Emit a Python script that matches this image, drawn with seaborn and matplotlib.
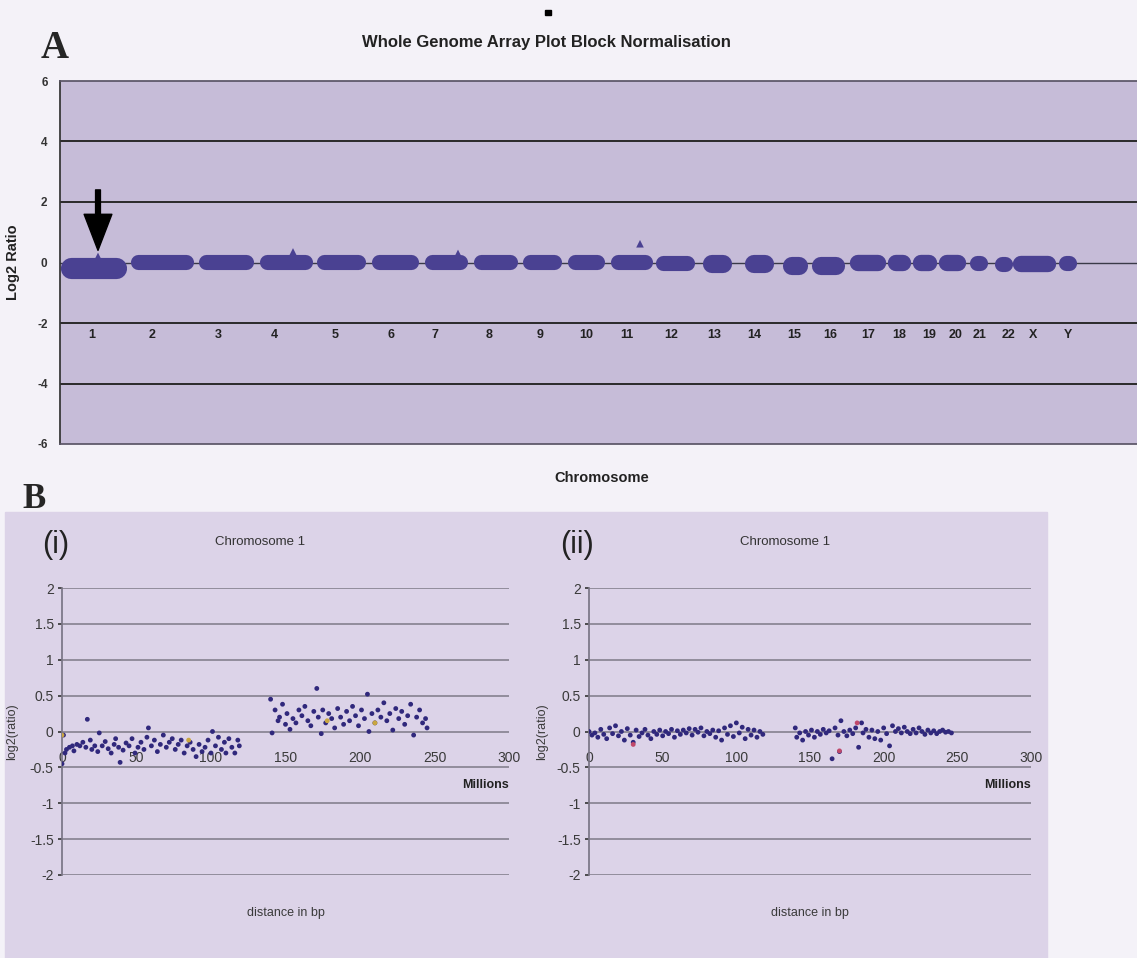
import numpy as np
import pandas as pd
import matplotlib
matplotlib.use("Agg")
import matplotlib.pyplot as plt
from matplotlib.patches import Rectangle
import seaborn as sns


## data
# panel A: whole genome blocks (x in array position units, y in log2 ratio)
chrom_names = ['1', '2', '3', '4', '5', '6', '7', '8', '9', '10', '11', '12',
               '13', '14', '15', '16', '17', '18', '19', '20', '21', '22', 'X', 'Y']
chrom_start = [0, 210, 414, 597, 768, 933, 1092, 1239, 1386, 1521, 1650, 1785,
               1929, 2055, 2169, 2256, 2370, 2484, 2559, 2637, 2730, 2805, 2859, 3000]
chrom_end = [201, 402, 582, 759, 918, 1077, 1224, 1374, 1506, 1635, 1779, 1905,
             2016, 2142, 2244, 2355, 2478, 2553, 2631, 2718, 2778, 2853, 2988, 3045]
chrom_level = [-0.17, 0.02, 0.02, 0.02, 0.02, 0.02, 0.02, 0.02, 0.02, 0.02, 0.02, 0.0,
               -0.06, -0.05, -0.1, -0.1, -0.03, -0.02, -0.03, -0.03, -0.02, -0.04, -0.04, -0.02]
chrom_spread = [0.35, 0.25, 0.25, 0.25, 0.25, 0.25, 0.25, 0.25, 0.25, 0.25, 0.25, 0.25,
                0.3, 0.3, 0.3, 0.3, 0.27, 0.27, 0.27, 0.27, 0.25, 0.25, 0.27, 0.25]
chrom_label_pos = [96, 276, 474, 642, 825, 993, 1125, 1287, 1440, 1578, 1701, 1833,
                   1962, 2082, 2202, 2310, 2424, 2517, 2607, 2688, 2760, 2844, 2919, 3024]
spike_pos = [114, 699, 1194, 1740]
spike_ratio = [0.2, 0.35, 0.3, 0.62]

# panel B(i): chromosome 1, block normalisation (Mb, log2 ratio)
b1_pos = [0, 1, 2, 3, 5, 7, 8, 10, 12, 14, 16, 17, 19, 20, 22, 24, 25, 27, 29, 31,
          33, 35, 36, 38, 39, 41, 43, 45, 47, 49, 51, 53, 55, 57, 58, 60, 62, 64, 66, 68,
          70, 72, 74, 76, 78, 80, 82, 84, 86, 88, 90, 92, 94, 96, 98, 100, 101, 103, 105, 107,
          109, 110, 112, 114, 116, 118, 119,
          140, 141, 143, 145, 146, 148, 150, 151, 153, 155, 157, 159, 161, 163, 165, 167, 169,
          171, 172, 174, 175, 177, 179, 181, 183, 185, 187, 189, 191, 193, 195, 197, 199, 201,
          203, 205, 206, 208, 210, 212, 214, 216, 218, 220, 222, 224, 226, 228, 230, 232, 234,
          236, 238, 240, 242, 244, 245]
b1_ratio = [-0.45, -0.05, -0.3, -0.25, -0.22, -0.2, -0.27, -0.18, -0.2, -0.15, -0.22, 0.17,
            -0.12, -0.25, -0.2, -0.28, -0.02, -0.2, -0.14, -0.24, -0.3, -0.18, -0.1, -0.22,
            -0.43, -0.26, -0.16, -0.2, -0.1, -0.3, -0.22, -0.15, -0.25, -0.08, 0.05, -0.2,
            -0.12, -0.28, -0.18, -0.05, -0.22, -0.15, -0.1, -0.25, -0.18, -0.12, -0.3, -0.2,
            -0.15, -0.25, -0.35, -0.18, -0.28, -0.22, -0.12, -0.3, 0.0, -0.2, -0.08, -0.25,
            -0.15, -0.3, -0.1, -0.22, -0.3, -0.12, -0.2,
            0.45, -0.02, 0.3, 0.15, 0.2, 0.38, 0.1, 0.25, 0.03, 0.18, 0.12, 0.3, 0.22, 0.35,
            0.15, 0.08, 0.28, 0.6, 0.2, -0.03, 0.3, 0.12, 0.25, 0.18, 0.05, 0.32, 0.2, 0.1,
            0.28, 0.15, 0.35, 0.22, 0.08, 0.3, 0.18, 0.52, 0.0, 0.25, 0.12, 0.3, 0.2, 0.4,
            0.15, 0.25, 0.02, 0.32, 0.18, 0.28, 0.1, 0.22, 0.38, -0.05, 0.2, 0.3, 0.12, 0.18, 0.05]
b1_flag_pos = [0, 85, 178, 210]
b1_flag_ratio = [-0.05, -0.12, 0.15, 0.12]

# panel B(ii): chromosome 1, second sample
b2_pos = [0, 2, 4, 6, 8, 10, 12, 14, 16, 18, 20, 22, 24, 26, 28, 30, 32, 34, 36, 38,
          40, 42, 44, 46, 48, 50, 52, 54, 56, 58, 60, 62, 64, 66, 68, 70, 72, 74, 76, 78,
          80, 82, 84, 86, 88, 90, 92, 94, 96, 98, 100, 102, 104, 106, 108, 110, 112, 114, 116, 118,
          140, 141, 143, 145, 147, 149, 151, 153, 155, 157, 159, 161, 163, 165, 167, 169, 170,
          171, 173, 175, 177, 179, 181, 183, 185, 186, 188, 190, 192, 194, 196, 198, 200, 202,
          204, 206, 208, 210, 212, 214, 216, 218, 220, 222, 224, 226, 228, 230, 232, 234, 236,
          238, 240, 242, 244, 246]
b2_ratio = [0.0, -0.05, -0.02, -0.08, 0.03, -0.04, -0.1, 0.05, -0.03, 0.08, -0.06, 0.0,
            -0.12, 0.04, -0.05, -0.15, 0.02, -0.07, -0.02, 0.03, -0.05, -0.1, 0.0, -0.04,
            0.02, -0.06, 0.0, -0.03, 0.03, -0.08, 0.01, -0.04, 0.02, -0.02, 0.04, -0.05,
            0.03, -0.01, 0.05, -0.06, 0.0, -0.03, 0.02, -0.08, 0.01, -0.12, 0.05, -0.04,
            0.08, -0.07, 0.12, -0.02, 0.06, -0.1, 0.03, -0.05, 0.02, -0.08, 0.0, -0.04,
            0.05, -0.08, -0.02, -0.12, 0.0, -0.05, 0.02, -0.08, 0.0, -0.04, 0.03, -0.02,
            0.01, -0.38, 0.05, -0.05, -0.28, 0.15, 0.0, -0.06, 0.02, -0.03, 0.05, -0.22,
            0.12, -0.02, 0.03, -0.08, 0.02, -0.1, 0.0, -0.12, 0.05, -0.03, -0.2, 0.08,
            0.0, 0.04, -0.02, 0.06, 0.0, -0.03, 0.03, -0.02, 0.05, 0.0, -0.04, 0.02,
            -0.02, 0.01, -0.03, 0.0, 0.02, -0.01, 0.0, -0.02]
b2_flag_pos = [30, 170, 182]
b2_flag_ratio = [-0.18, -0.27, 0.12]

y_tick_labels_b = ['-2', '-1.5', '-1', '-0.5', '0', '0.5', '1', '1.5', '2']

## style
page_bg = '#f4f2f8'
a_bg = '#c6bcd8'
b_bg = '#dcd3e8'
blob_col = '#4a4192'
dot_col = '#30287c'

sns.set_theme(style='white')
plt.rcParams['font.family'] = ['Liberation Sans', 'DejaVu Sans']

fig = plt.figure(figsize=(11.37, 9.58), dpi=100, facecolor=page_bg)
W, H = 1137.0, 958.0

# lavender box behind panel B
fig.patches.append(Rectangle((5 / W, 0), (1047 - 5) / W, (958 - 512) / H,
                             transform=fig.transFigure, color=b_bg, zorder=-5))
fig.patches.append(Rectangle((545 / W, 1 - 15 / H), 6 / W, 5 / H,
                             transform=fig.transFigure, color='black', zorder=-4))

## panel A
ax = fig.add_axes([60 / W, 1 - 444 / H, 1077 / W, 363 / H])
ax.set_facecolor(a_bg)
ax.set_xlim(0, 3231)
ax.set_ylim(-6, 6)
for y in [4, 2, -2, -4]:
    ax.axhline(y, color='#2a2a2a', lw=1.4, zorder=1)
ax.axhline(0, color='#3a3a48', lw=1.0, zorder=1)

# pixel scales to turn the block spread into a line thickness
fig.canvas.draw()
px_per_x = ax.bbox.width / 3231.0
px_per_y = ax.bbox.height / 12.0
for s, e, lev, sp in zip(chrom_start, chrom_end, chrom_level, chrom_spread):
    thick_px = 2 * sp * px_per_y
    cap = thick_px / 2 / px_per_x
    mid = (s + e) / 2
    # keep at least ~3 px of line so very short blocks still render
    half_min = 1.5 / px_per_x
    x0 = min(s + cap, mid - half_min)
    x1 = max(e - cap, mid + half_min)
    ax.plot([x0, x1], [lev, lev], color=blob_col, lw=thick_px * 72 / 100,
            solid_capstyle='round', zorder=2)
sns.scatterplot(x=spike_pos, y=spike_ratio, ax=ax, color=blob_col, s=30,
                marker='^', edgecolor='none', zorder=3)

for name, pos in zip(chrom_names, chrom_label_pos):
    ax.text(pos, -2.4, name, ha='center', va='center', fontsize=9,
            fontweight='bold', color='#222222')

ax.annotate('', xy=(114, 0.4), xytext=(114, 2.4),
            arrowprops=dict(facecolor='black', edgecolor='black', width=3.5,
                            headwidth=20, headlength=26), zorder=4)

ax.set_xticks([])
ax.set_yticks([-6, -4, -2, 0, 2, 4, 6])
ax.set_yticklabels(['-6', '-4', '-2', '0', '2', '4', '6'])
ax.tick_params(axis='y', labelsize=8.5, colors='#333333', length=3, pad=6)
for t in ax.get_yticklabels():
    t.set_fontweight('bold')
ax.spines['right'].set_visible(False)
ax.spines['left'].set_color('#333333')
ax.spines['top'].set_color('#5a5566')
ax.spines['bottom'].set_color('#5a5566')
ax.set_ylabel('Log2 Ratio', fontsize=10.5, fontweight='bold', color='#222222')
ax.yaxis.set_label_coords(-0.037, 0.5)
ax.set_xlabel('Chromosome', fontsize=10.5, fontweight='bold', color='#222222')
ax.xaxis.set_label_coords(0.503, -0.074)

fig.text(546 / W, 1 - 42 / H, 'Whole Genome Array Plot Block Normalisation',
         ha='center', va='center', fontsize=12, fontweight='bold', color='#222222')
fig.text(55 / W, 1 - 48 / H, 'A', ha='center', va='center', fontsize=28,
         fontweight='bold', family=['Liberation Serif', 'DejaVu Serif'])

## panel B
fig.text(34 / W, 1 - 499 / H, 'B', ha='center', va='center', fontsize=25,
         fontweight='bold', family=['Liberation Serif', 'DejaVu Serif'])


def chrom1_panel(rect, pos, ratio, flag_pos, flag_ratio, flag_col, tag, tag_x, ylab_x):
    bx = fig.add_axes(rect)
    bx.set_facecolor(b_bg)
    bx.set_xlim(0, 300)
    bx.set_ylim(-2, 2)
    bx.set_yticks(np.arange(-2, 2.01, 0.5))
    bx.set_yticklabels(y_tick_labels_b)
    bx.grid(axis='y', color='#8c8796', lw=1.3)
    bx.set_axisbelow(True)

    df = pd.DataFrame({'pos': pos, 'ratio': ratio})
    sns.scatterplot(data=df, x='pos', y='ratio', ax=bx, color=dot_col, s=12,
                    edgecolor='none', zorder=3)
    sns.scatterplot(x=flag_pos, y=flag_ratio, ax=bx, color=flag_col, s=12,
                    edgecolor='none', zorder=3)

    bx.set_xticks([0, 50, 100, 150, 200, 250, 300])
    bx.spines['bottom'].set_position(('data', 0))
    bx.spines['bottom'].set_visible(False)
    for side in ['top', 'right']:
        bx.spines[side].set_visible(False)
    bx.spines['left'].set_color('#7a7585')
    bx.tick_params(axis='x', length=0, pad=14, labelsize=10, colors='#3a3a3a')
    bx.tick_params(axis='y', length=3, pad=3, labelsize=10, colors='#3a3a3a', left=True)

    bx.set_ylabel('log2(ratio)', fontsize=9, color='#3a3a3a')
    bx.yaxis.set_label_coords(ylab_x, 0.5)
    bx.set_xlabel('distance in bp', fontsize=9, color='#3a3a3a')
    bx.xaxis.set_label_coords(0.5, -0.111)
    bx.text(300, -0.75, 'Millions', ha='right', va='center', fontsize=9,
            fontweight='bold', color='#222222')
    bx.text(0.444, 1.16, 'Chromosome 1', transform=bx.transAxes, ha='center',
            va='center', fontsize=9.5, color='#333333')
    fig.text(tag_x / W, 1 - 545 / H, tag, ha='center', va='center', fontsize=22,
             color='#222222')
    return bx


chrom1_panel([62 / W, 1 - 875 / H, 447 / W, 287 / H], b1_pos, b1_ratio,
             b1_flag_pos, b1_flag_ratio, '#c9a640', '(i)', 56, -0.098)
chrom1_panel([589 / W, 1 - 875 / H, 442 / W, 287 / H], b2_pos, b2_ratio,
             b2_flag_pos, b2_flag_ratio, '#c0486a', '(ii)', 577, -0.093)

fig.savefig('out.png', dpi=100, facecolor=page_bg)
